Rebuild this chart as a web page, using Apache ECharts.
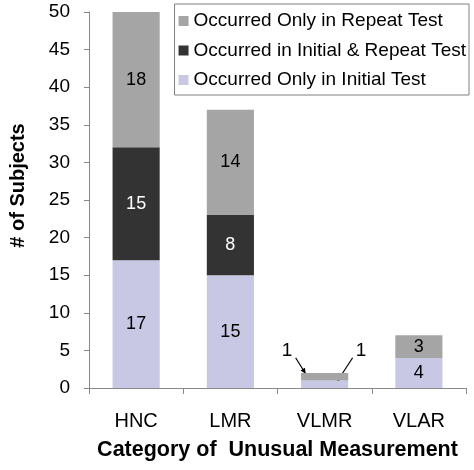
<!DOCTYPE html>
<html><head><meta charset="utf-8">
<script src="https://cdn.jsdelivr.net/npm/echarts@6/dist/echarts.min.js"></script>
<style>html,body{margin:0;padding:0;background:#fff}#c{width:474px;height:470px}</style>
</head><body><div id="c"></div>
<script>
const categories = ['HNC', 'LMR', 'VLMR', 'VLAR'];
const onlyInitial = [17, 15, 1, 4];
const initialAndRepeat = [15, 8, 0, 0];
const onlyRepeat = [18, 14, 1, 3];
const seriesNames = ['Occurred Only in Initial Test', 'Occurred in Initial & Repeat Test', 'Occurred Only in Repeat Test'];
const yTicks = [0, 5, 10, 15, 20, 25, 30, 35, 40, 45, 50];

const FONT = '"Liberation Sans", Arial, sans-serif';
const colors = ['#C8C8E4', '#333333', '#A5A5A5'];
const labelColors = ['#000', '#fff', '#000'];

function lbl(i) {
  return {
    show: true, position: 'inside', color: labelColors[i], fontSize: 18, fontFamily: FONT,
    formatter: p => (p.value > 0 && categories[p.dataIndex] !== 'VLMR') ? String(p.value) : ''
  };
}
const data = [onlyInitial, initialAndRepeat, onlyRepeat];
const chart = echarts.init(document.getElementById('c'), null, {renderer: 'canvas'});
chart.setOption({
  animation: false,
  textStyle: {fontFamily: FONT},
  grid: {left: 83, right: 8, top: 12, bottom: 82, containLabel: false},
  legend: {
    orient: 'vertical', right: 5, top: 4,
    data: [seriesNames[2], seriesNames[1], seriesNames[0]],
    itemWidth: 10, itemHeight: 10, itemGap: 9.5, icon: 'rect',
    borderColor: '#808080', borderWidth: 1, padding: [7, 3, 5, 4],
    textStyle: {fontSize: 19, lineHeight: 20, color: '#000', fontFamily: FONT},
    backgroundColor: '#fff'
  },
  xAxis: {
    type: 'category', data: categories,
    name: 'Category of  Unusual Measurement', nameLocation: 'middle', nameGap: 51,
    nameTextStyle: {fontSize: 21.5, fontWeight: 'bold', color: '#000', fontFamily: FONT},
    axisLine: {lineStyle: {color: '#888'}},
    axisTick: {show: true, length: 6, lineStyle: {color: '#888'}},
    axisLabel: {fontSize: 20, color: '#000', margin: 23, fontFamily: FONT}
  },
  yAxis: {
    type: 'value', min: 0, max: 50, interval: 5,
    name: '# of Subjects', nameLocation: 'middle', nameGap: 61,
    nameTextStyle: {fontSize: 20, fontWeight: 'bold', color: '#000', fontFamily: FONT, padding: [0, 0, 0, 29]},
    axisLine: {show: true, lineStyle: {color: '#888'}},
    axisTick: {show: true, length: 5, lineStyle: {color: '#888'}},
    axisLabel: {fontSize: 19, color: '#000', margin: 19, fontFamily: FONT,
      formatter: v => yTicks.includes(v) ? String(v) : ''},
    splitLine: {show: false}
  },
  series: [0, 1, 2].map(i => ({
    name: seriesNames[i], type: 'bar', stack: 'total', barWidth: '50%',
    itemStyle: {color: colors[i]},
    label: lbl(i),
    data: data[i]
  }))
});

// VLMR annotations with arrows, positioned through the chart's scales
const vi = categories.indexOf('VLMR');
const c0 = chart.convertToPixel({xAxisIndex: 0}, categories[vi]);
const bw = 48;
const topMid = chart.convertToPixel({yAxisIndex: 0}, onlyInitial[vi] + onlyRepeat[vi] / 2);
const botMid = chart.convertToPixel({yAxisIndex: 0}, onlyInitial[vi] / 2);
const arrow = (x1, y1, x2, y2) => {
  const ang = Math.atan2(y2 - y1, x2 - x1), L = 6, w = 0.45;
  return [
    {type: 'line', shape: {x1, y1, x2, y2}, style: {stroke: '#000', lineWidth: 1.2}},
    {type: 'polygon', shape: {points: [[x2, y2],
      [x2 - L * Math.cos(ang - w), y2 - L * Math.sin(ang - w)],
      [x2 - L * Math.cos(ang + w), y2 - L * Math.sin(ang + w)]]}, style: {fill: '#000'}}
  ];
};
chart.setOption({graphic: [
  {type: 'text', x: c0 - bw / 2 - 19, y: topMid - 35, style: {text: String(onlyRepeat[vi]), fontSize: 19, fontFamily: FONT, fill: '#000'}},
  ...arrow(c0 - bw / 2 - 5, topMid - 19, c0 - bw / 2 + 5, topMid - 3),
  {type: 'text', x: c0 + bw / 2 + 7, y: topMid - 35, style: {text: String(onlyInitial[vi]), fontSize: 19, fontFamily: FONT, fill: '#000'}},
  ...arrow(c0 + bw / 2 + 4, topMid - 19, c0 + 12, botMid - 2)
]});
</script></body></html>
